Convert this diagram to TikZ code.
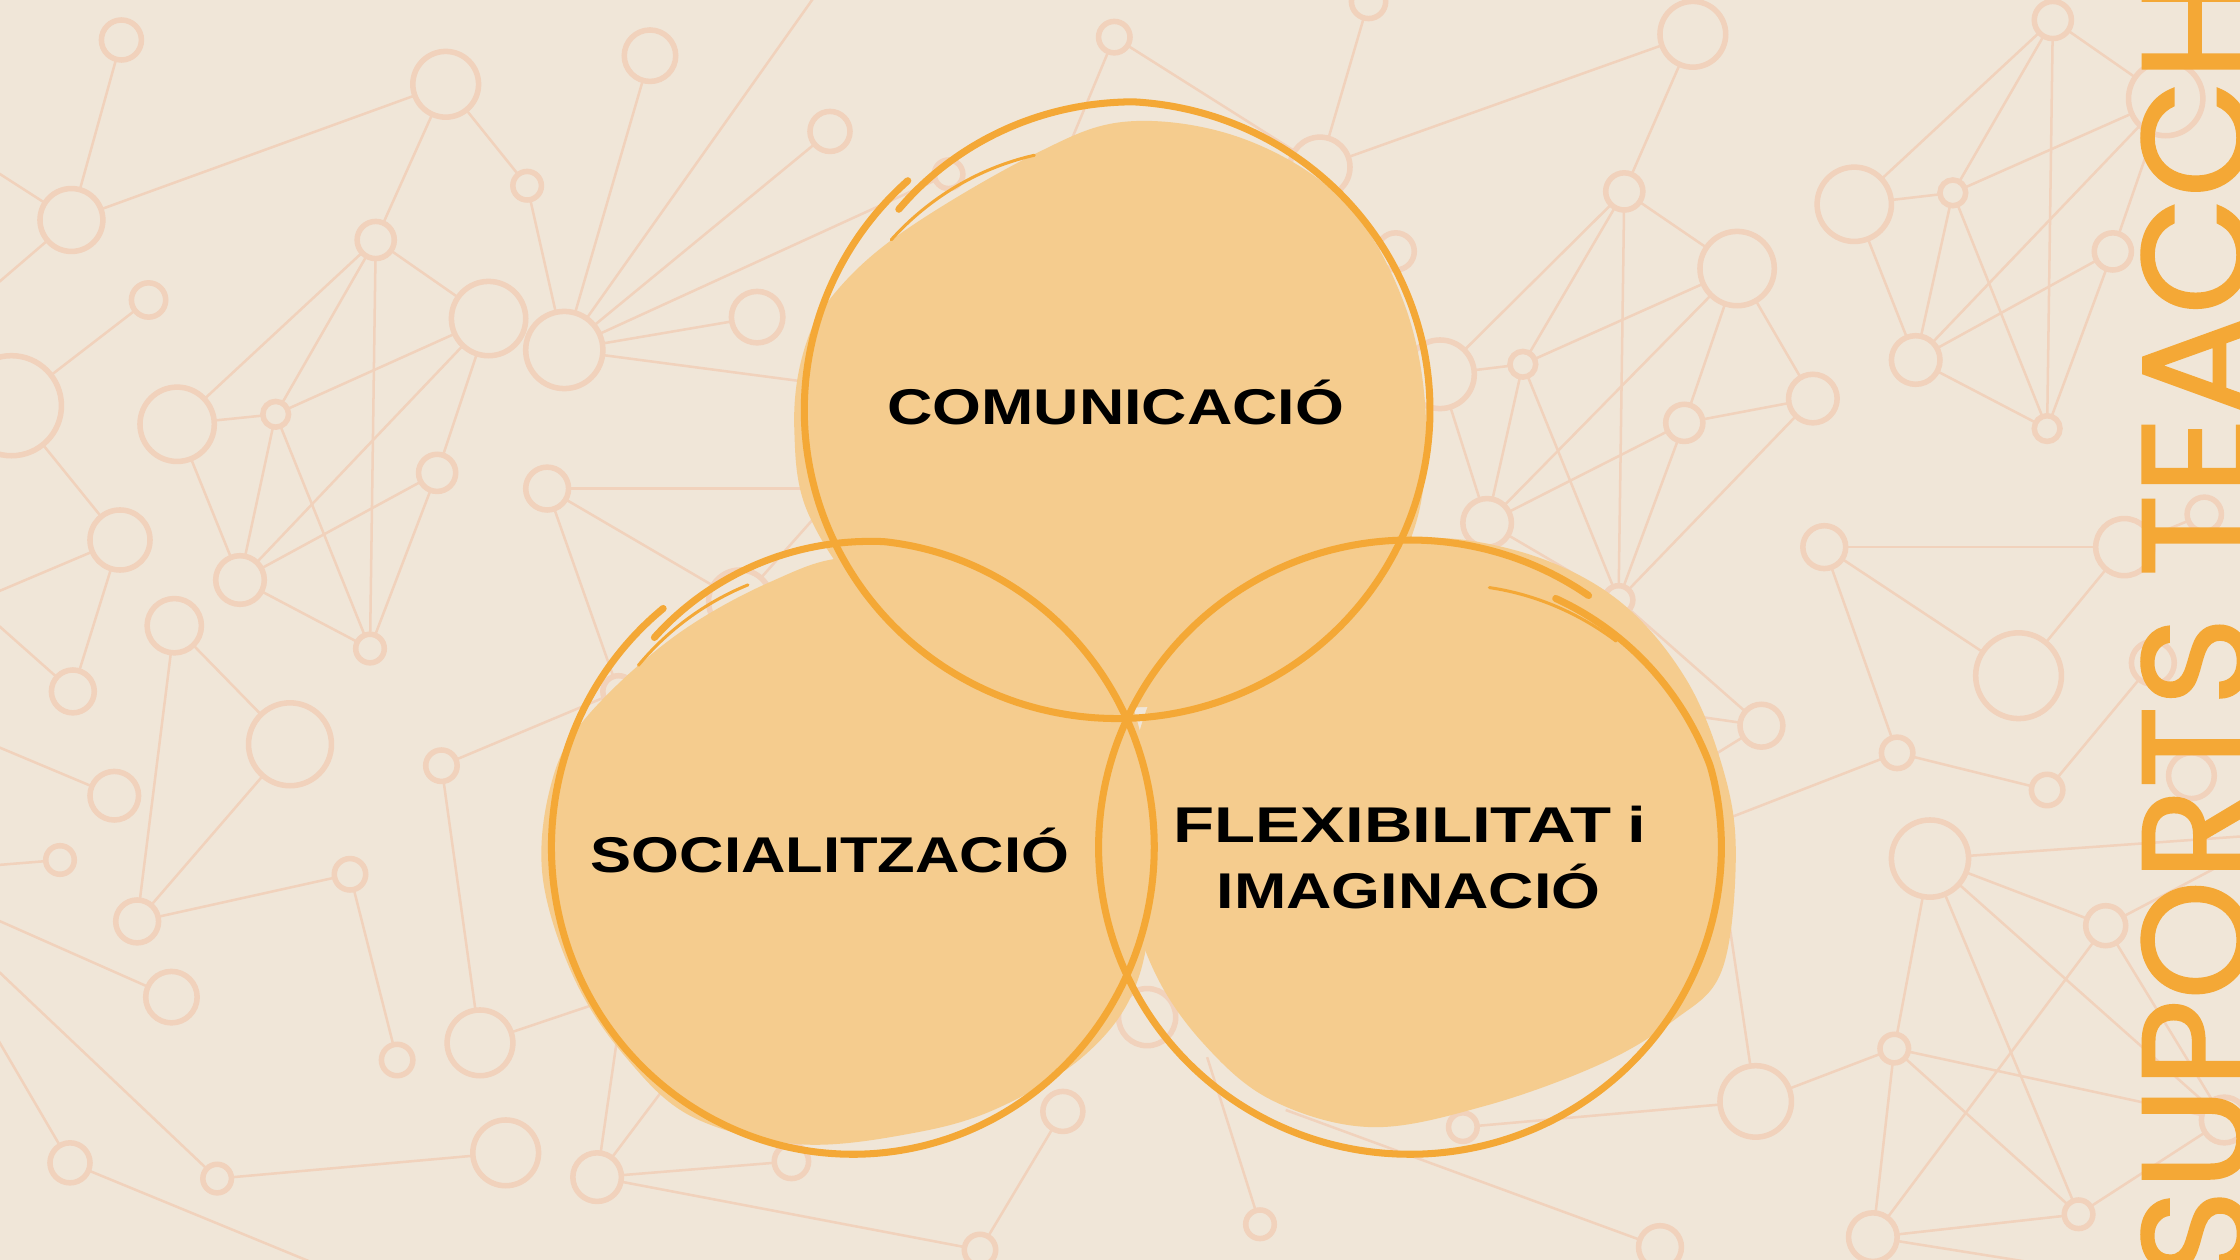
\documentclass[tikz,border=0pt]{standalone}
\usepackage{fontspec}
\newfontfamily\labfont{Liberation Sans}[FakeStretch=1.25]
\newfontfamily\vfont{Poppins}[FakeBold=1.6]
\definecolor{bgc}{RGB}{240,230,216}
\definecolor{netcol}{RGB}{241,210,188}
\definecolor{blobc}{RGB}{245,204,142}
\definecolor{orc}{RGB}{244,168,54}
\tikzset{
  netnode/.style={circle,draw=netcol,line width=1.1pt,inner sep=0pt,outer sep=0pt},
  netline/.style={draw=netcol,line width=0.5pt},
  blob/.style={fill=blobc},
  ring/.style={draw=orc,line width=1.4pt,line cap=round,line join=round},
  bristle/.style={draw=orc,line width=0.6pt,line cap=round},
  lab/.style={font={\labfont\bfseries\fontsize{10pt}{12pt}\selectfont},text=black,inner sep=0pt,anchor=base},
  vlab/.style={font={\vfont\fontsize{30.2pt}{32pt}\selectfont},text=orc,inner sep=0pt,rotate=90,anchor=base west}
}
\newcommand\netn[4]{\node[netnode,minimum size=#4*0.02cm] (#1) at (#2,#3) {};}
\begin{document}
\begin{tikzpicture}[x=0.01cm,y=-0.01cm]
\useasboundingbox (0,0) rectangle (1568,882);
\clip (0,0) rectangle (1568,882);
\fill[bgc] (0,0) rectangle (1568,882);
% network nodes
\netn{n1}{85}{28}{14}
\netn{n2}{312}{59}{23}
\netn{n3}{455}{39}{18}
\netn{n4}{50}{154}{22}
\netn{n5}{369}{130}{10}
\netn{n6}{581}{92}{14}
\netn{n7}{263}{168}{13}
\netn{n8}{104}{210}{12}
\netn{n9}{342}{223}{26}
\netn{n10}{395}{245}{27}
\netn{n11}{530}{222}{18}
\netn{n12}{8}{284}{35}
\netn{n13}{124}{297}{26}
\netn{n14}{193}{290}{9}
\netn{n15}{306}{331}{13}
\netn{n16}{383}{342}{15}
\netn{n17}{84}{378}{21}
\netn{n18}{168}{406}{17}
\netn{n19}{122}{438}{19}
\netn{n20}{259}{454}{10}
\netn{n21}{51}{484}{15}
\netn{n22}{203}{521}{29}
\netn{n23}{309}{536}{11}
\netn{n24}{80}{557}{17}
\netn{n25}{42}{602}{10}
\netn{n26}{245}{612}{11}
\netn{n27}{96}{645}{15}
\netn{n28}{120}{698}{18}
\netn{n29}{278}{742}{11}
\netn{n30}{336}{730}{23}
\netn{n31}{49}{814}{14}
\netn{n32}{152}{825}{10}
\netn{n33}{354}{807}{23}
\netn{n34}{418}{824}{17}
\netn{n35}{686}{875}{11}
\netn{n36}{554}{813}{12}
\netn{n37}{744}{778}{14}
\netn{n38}{803}{712}{20}
\netn{n39}{882}{857}{10}
\netn{n40}{1024}{789}{10}
\netn{n41}{1229}{771}{25}
\netn{n42}{1162}{873}{15}
\netn{n43}{1311}{866}{17}
\netn{n44}{1455}{850}{10}
\netn{n45}{1326}{734}{10}
\netn{n46}{1474}{648}{14}
\netn{n47}{1351}{601}{27}
\netn{n48}{1433}{553}{11}
\netn{n49}{1328}{527}{11}
\netn{n50}{1413}{473}{30}
\netn{n51}{1233}{508}{15}
\netn{n52}{1277}{383}{15}
\netn{n53}{1487}{383}{20}
\netn{n54}{1133}{420}{10}
\netn{n55}{1041}{366}{17}
\netn{n56}{1179}{296}{13}
\netn{n57}{1269}{279}{17}
\netn{n58}{1066}{255}{9}
\netn{n59}{1008}{262}{24}
\netn{n60}{1216}{188}{26}
\netn{n61}{1137}{134}{13}
\netn{n62}{1185}{24}{23}
\netn{n63}{924}{117}{21}
\netn{n64}{977}{176}{13}
\netn{n65}{958}{1}{12}
\netn{n66}{780}{26}{11}
\netn{n67}{1298}{143}{26}
\netn{n68}{1367}{135}{9}
\netn{n69}{1341}{252}{17}
\netn{n70}{1479}{176}{13}
\netn{n71}{1433}{300}{9}
\netn{n72}{1437}{14}{13}
\netn{n73}{1516}{69}{26}
\netn{n74}{1543}{360}{12}
\netn{n75}{1507}{464}{15}
\netn{n76}{1534}{543}{16}
\netn{n77}{1557}{784}{16}
\netn{n78}{664}{122}{10}
\netn{n79}{518}{421}{22}
\netn{n80}{433}{484}{11}
% free ends
\coordinate (L1) at (-20,109);
\coordinate (L2) at (-20,214);
\coordinate (L3) at (-20,422);
\coordinate (L4) at (-20,515);
\coordinate (L5) at (-20,607);
\coordinate (L6) at (-20,421);
\coordinate (L7) at (-20,636);
\coordinate (L8) at (-20,662);
\coordinate (L9) at (-20,696);
\coordinate (T1) at (572,-5);
\coordinate (B1) at (258,900);
\coordinate (B2) at (1480,893);
\coordinate (R1) at (1590,584);
\coordinate (R2) at (1590,587);
\coordinate (U1) at (600,272);
\coordinate (U2) at (600,342);
\coordinate (U3) at (590,340);
\coordinate (U4) at (440,695);
\coordinate (U5) at (433,720);
\coordinate (U6) at (485,735);
\coordinate (U8) at (845,740);
\coordinate (U9) at (900,777);
\coordinate (U10) at (1205,610);
\coordinate (U11) at (1150,496);
\coordinate (U12) at (1170,547);
\coordinate (U13) at (1150,596);
\coordinate (U14) at (1060,455);
\coordinate (U15) at (745,110);
% network lines
\foreach \a/\b in {n1/n4,n4/n2,n4/L1,n4/L2,n2/n5,n2/n7,n3/n10,n10/T1,n5/n10,n10/n6,n10/n78,n10/n11,n10/U1,
  n7/n9,n9/n14,n9/n18,n9/n15,n7/n13,n7/n14,n7/n20,n13/n14,n14/n18,n14/n20,n15/n18,n15/n20,n13/n18,n18/n20,
  n12/n8,n12/n17,n17/L3,n17/n21,n16/U2,n16/n79,n16/n80,n79/U3,n19/n22,n19/n27,n22/n27,n24/L4,n25/L5,n21/L6,
  n27/n26,n26/n29,n28/L7,n32/L8,n31/L9,n31/B1,n32/n33,n23/n30,n23/n80,n30/U4,n34/U5,n34/U6,n34/n36,n34/n35,
  n37/n35,n39/U8,U9/n42,n40/n41,n41/U10,n45/n41,n45/n44,n45/n43,n45/n77,n47/n45,n47/n46,n47/n77,n47/n44,
  n47/R1,n46/R2,n46/n43,n46/n77,n44/n77,n44/n43,n43/B2,n51/U11,n51/U12,n49/U13,n49/n52,n49/n48,n48/n75,
  n52/n50,n50/n53,n52/n53,n54/n51,n62/n61,n63/n62,n61/n60,n61/n54,n61/n58,n59/n61,n60/n58,n60/n57,n60/n56,
  n60/n55,n56/n57,n56/n55,n56/n54,n57/n54,n58/n54,n59/n58,n58/n55,n59/n55,n55/n54,n55/U14,n67/n72,n68/n72,
  n72/n71,n72/n73,n67/n68,n67/n69,n68/n69,n68/n71,n68/n73,n69/n73,n69/n70,n69/n71,n70/n73,n70/n71,n65/n63,
  n66/U15,n66/n63,n53/n74}
  \draw[netline] (\a) -- (\b);
% blobs
\fill[blob] plot[smooth cycle,tension=0.6] coordinates {(790,85) (870,97) (940,140) (982,210) (998,290) (990,370) (950,435) (870,482) (780,495) (690,475) (612,425) (566,360) (556,300) (562,248) (582,208) (631,163) (724,108)};
\fill[blob] plot[smooth cycle,tension=0.6] coordinates {(600,390) (690,405) (765,445) (800,520) (806,620) (795,690) (760,738) (700,775) (640,793) (560,801) (485,782) (438,740) (402,685) (380,615) (385,552) (408,505) (470,447) (540,407)};
\fill[blob] plot[smooth cycle,tension=0.6] coordinates {(980,378) (1060,385) (1130,418) (1180,475) (1208,545) (1215,605) (1205,680) (1172,714) (1120,745) (1040,774) (960,789) (890,770) (842,730) (808,680) (790,620) (790,545) (818,465) (880,408)};
% hand-drawn rings
\draw[ring] plot[smooth,variable=\t,domain=137:-228,samples=140]
  ({782+(219-10*max(0,1-(137-\t)/50))*cos(\t)},{287-(216-10*max(0,1-(137-\t)/50))*sin(\t)});
\draw[bristle] plot[smooth,variable=\t,domain=143:108,samples=20]
  ({782+(198-0.3*(143-\t))*cos(\t)},{287-(198-0.3*(143-\t))*sin(\t)});
\draw[ring] plot[smooth,variable=\t,domain=134:-231,samples=140]
  ({597+(211-11*max(0,1-(134-\t)/50))*cos(\t)},{593-(215-11*max(0,1-(134-\t)/50))*sin(\t)});
\draw[bristle] plot[smooth,variable=\t,domain=140:112,samples=20]
  ({597+(196)*cos(\t)},{593-(198)*sin(\t)});
\draw[ring] plot[smooth,variable=\t,domain=60:-305,samples=140]
  ({987+(218-14*max(0,1-(60-\t)/45))*cos(\t)},{593-(215-14*max(0,1-(60-\t)/45))*sin(\t)});
\draw[bristle] plot[smooth,variable=\t,domain=73:45,samples=20]
  ({987+(190+0.5*(73-\t))*cos(\t)},{593-(190+0.5*(73-\t))*sin(\t)});
% labels
\node[lab] (tc) at (781,297) {COMUNICACIÓ};
\node[lab,transform shape,xscale=0.98] (tl) at (581,611) {SOCIALITZACIÓ};
\node[lab,transform shape,xscale=1.07] (tr1) at (987,590) {FLEXIBILITAT\hspace{0.3em}i};
\node[lab] (tr2) at (986,636) {IMAGINACIÓ};
\node[vlab] (vt) at (1574,896) {SUPORTS TEACCH};
\end{tikzpicture}
\end{document}
